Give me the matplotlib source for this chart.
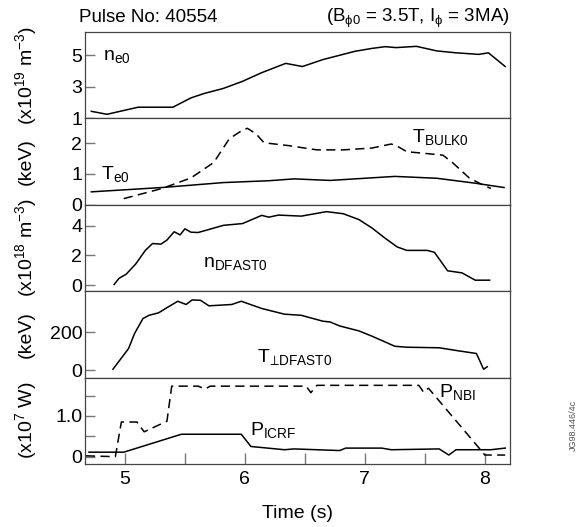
import matplotlib
matplotlib.use("Agg")
import matplotlib.pyplot as plt
from matplotlib.ticker import FixedLocator

plt.rcParams['font.family'] = ['Liberation Sans', 'DejaVu Sans']
plt.rcParams['mathtext.fontset'] = 'custom'
plt.rcParams['mathtext.rm'] = 'Liberation Sans'
plt.rcParams['mathtext.it'] = 'Liberation Sans:italic'
plt.rcParams['mathtext.bf'] = 'Liberation Sans:bold'
plt.rcParams['mathtext.fallback'] = 'stixsans'

# ---- data (time in s) ----
t_ne0 = [4.72, 4.85, 5.11, 5.40, 5.55, 5.66, 5.82, 5.98, 6.14, 6.34, 6.48, 6.65,
         6.92, 7.06, 7.17, 7.26, 7.43, 7.60, 7.76, 7.95, 8.03, 8.17]
ne0 = [1.45, 1.26, 1.71, 1.71, 2.30, 2.58, 2.90, 3.35, 3.90, 4.49, 4.29, 4.73,
       5.26, 5.44, 5.55, 5.49, 5.57, 5.28, 5.16, 5.06, 5.16, 4.29]

t_te0 = [4.72, 5.31, 5.82, 6.20, 6.41, 6.71, 7.25, 7.60, 7.92, 8.16]
te0 = [0.42, 0.56, 0.72, 0.78, 0.84, 0.79, 0.92, 0.86, 0.70, 0.56]

t_tbulk = [4.99, 5.31, 5.55, 5.74, 5.87, 5.96, 6.02, 6.09, 6.16, 6.36, 6.60, 6.82,
           7.06, 7.22, 7.27, 7.35, 7.49, 7.65, 7.73, 7.87, 7.97, 8.05]
tbulk = [0.20, 0.53, 0.87, 1.37, 2.14, 2.37, 2.48, 2.31, 2.01, 1.92, 1.78, 1.78,
         1.84, 1.97, 1.90, 1.72, 1.67, 1.61, 1.37, 0.87, 0.67, 0.53]

t_nd = [4.91, 4.95, 5.01, 5.09, 5.17, 5.23, 5.30, 5.35, 5.41, 5.46, 5.50, 5.55,
        5.61, 5.69, 5.82, 5.98, 6.14, 6.20, 6.28, 6.47, 6.68, 6.82, 6.95, 7.06,
        7.17, 7.27, 7.35, 7.52, 7.58, 7.69, 7.81, 7.92, 8.04]
nd = [0.05, 0.46, 0.74, 1.43, 2.34, 2.80, 2.76, 3.03, 3.59, 3.38, 3.79, 3.56,
      3.54, 3.72, 4.02, 4.14, 4.69, 4.57, 4.71, 4.64, 4.94, 4.80, 4.41, 3.84,
      3.15, 2.57, 2.34, 2.34, 2.21, 0.97, 0.83, 0.34, 0.34]

t_tperp = [4.90, 5.03, 5.08, 5.15, 5.20, 5.28, 5.36, 5.44, 5.51, 5.56, 5.63, 5.70,
           5.89, 5.97, 6.14, 6.33, 6.47, 6.65, 6.71, 6.79, 6.95, 7.06, 7.25, 7.35,
           7.62, 7.78, 7.93, 7.99, 8.02]
tperp = [5, 114, 193, 272, 289, 302, 333, 363, 346, 370, 368, 339,
         346, 363, 325, 295, 289, 258, 254, 233, 207, 179, 126, 121,
         118, 102, 88, 5, 18]

t_nbi = [4.675, 4.92, 4.97, 5.10, 5.16, 5.35, 5.39, 5.61, 5.67, 5.71, 6.51,
         6.55, 6.60, 7.45, 7.49, 7.53, 7.97, 8.00, 8.17]
p_nbi = [0.02, 0.0, 0.85, 0.85, 0.61, 0.87, 1.73, 1.73, 1.66, 1.73, 1.73,
         1.57, 1.75, 1.75, 1.58, 1.68, 0.15, 0.04, 0.04]

t_icrf = [4.70, 4.99, 5.47, 5.97, 6.05, 6.33, 6.41, 6.79, 6.84, 7.14, 7.22, 7.62,
          7.70, 7.76, 8.05, 8.17]
p_icrf = [0.11, 0.11, 0.55, 0.55, 0.25, 0.17, 0.19, 0.15, 0.21, 0.21, 0.17, 0.19,
          0.04, 0.17, 0.17, 0.21]

x_ticks = [5, 6, 7, 8]
x_minor = [5.5, 6.5, 7.5]

W, H = 585, 527
fig = plt.figure(figsize=(W / 100, H / 100), dpi=100)
left, right, top, bottom = 85, 510, 32, 464
gs = fig.add_gridspec(5, 1, left=left / W, right=right / W,
                      top=1 - top / H, bottom=1 - bottom / H, hspace=0)
axes = [fig.add_subplot(gs[i]) for i in range(5)]

spine_c = '#444444'
tick_c = '#777777'
FS = 14
LFS = 14
lw = 1.1
dash = (0, (6, 3.5))

for ax in axes:
    ax.set_xlim(4.667, 8.21)
    for s in ax.spines.values():
        s.set_color(spine_c)
        s.set_linewidth(0.9)
    ax.tick_params(axis='y', direction='in', length=7.5, width=1, color=tick_c,
                   labelsize=FS, pad=2, right=False)
    ax.tick_params(axis='y', which='minor', direction='in', length=7.5, width=1,
                   color=tick_c)
    ax.tick_params(axis='x', which='both', bottom=False, top=False,
                   labelbottom=False)

# panel 1
a = axes[0]
a.plot(t_ne0, ne0, color='black', lw=lw)
a.set_ylim(1.0, 6.48)
a.set_yticks([1, 3, 5])
a.text(4.82, 4.7, r'n$_{\mathrm{e0}}$', fontsize=LFS, va='baseline')

# panel 2
a = axes[1]
a.plot(t_te0, te0, color='black', lw=lw)
a.plot(t_tbulk, tbulk, color='black', lw=lw, linestyle=dash)
a.set_ylim(0, 2.8)
a.set_yticks([0, 1, 2])
a.text(4.80, 0.82, r'T$_{\mathrm{e0}}$', fontsize=LFS, va='baseline')
a.text(7.39, 2.03, r'T$_{\mathrm{BULK0}}$', fontsize=LFS, va='baseline')

# panel 3
a = axes[2]
a.plot(t_nd, nd, color='black', lw=lw)
a.set_ylim(-0.4, 5.4)
a.set_yticks([0, 2, 4])
a.text(5.65, 1.24, r'n$_{\mathrm{DFAST0}}$', fontsize=LFS, va='baseline')

# panel 4
a = axes[3]
a.plot(t_tperp, tperp, color='black', lw=lw)
a.set_ylim(-39, 416)
a.set_yticks([0, 200])
a.text(6.10, 44, 'T$_{\\mathrm{\u22a5DFAST0}}$', fontsize=LFS, va='baseline')

# panel 5
a = axes[4]
a.plot(t_icrf, p_icrf, color='black', lw=lw)
a.plot(t_nbi, p_nbi, color='black', lw=lw, linestyle=dash)
a.set_ylim(-0.18, 1.94)
a.set_yticks([0, 1.0])
a.set_yticklabels(['0', '1.0'])
a.yaxis.set_minor_locator(FixedLocator([0.5, 1.5]))
a.text(6.04, 0.53, r'P$_{\mathrm{ICRF}}$', fontsize=LFS, va='baseline')
a.text(7.62, 1.47, r'P$_{\mathrm{NBI}}$', fontsize=LFS, va='baseline')
a.set_xticks(x_ticks)
a.set_xticks(x_minor, minor=True)
a.tick_params(axis='x', which='both', bottom=True, labelbottom=True,
              direction='in', length=8, width=1, color=tick_c,
              labelsize=FS, pad=5)
a.set_xlabel('Time (s)', fontsize=FS)
a.xaxis.set_label_coords(0.5, -0.48)

# y labels
ylabels = [r'(x10$^{19}$ m$^{-3}$)', '(keV)', r'(x10$^{18}$ m$^{-3}$)',
           '(keV)', r'(x10$^{7}$ W)']
for ax, lab in zip(axes, ylabels):
    bb = ax.get_position()
    fig.text(26 / W, (bb.y0 + bb.y1) / 2, lab, rotation=90, ha='center',
             va='center', fontsize=FS)

# header
axes[0].text(-0.015, 1.12, 'Pulse No: 40554', transform=axes[0].transAxes,
             fontsize=13.5, ha='left', va='baseline')
axes[0].text(1.0, 1.12, '(B$_{\\mathrm{\u03d50}}$ = 3.5T, I$_{\\mathrm{\u03d5}}$ = 3MA)',
             transform=axes[0].transAxes, fontsize=13.5, ha='right',
             va='baseline')

fig.text(573 / W, 1 - 425 / H, 'JG98.446/4c', rotation=90, ha='center',
         va='center', fontsize=6.5, color='#555555')

fig.savefig('out.png', dpi=100)
